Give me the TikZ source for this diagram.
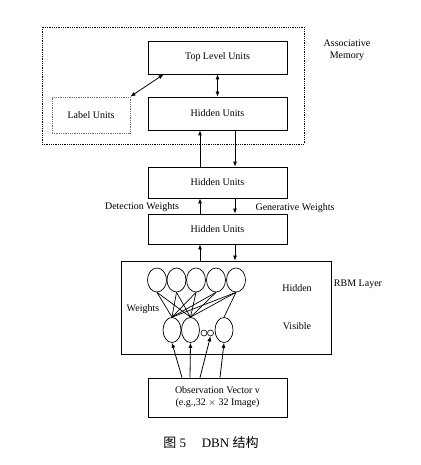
\documentclass[tikz,border=0pt]{standalone}
\usepackage{fontspec}
\setmainfont{Liberation Serif}
\newfontfamily\cjk{Noto Sans CJK SC}
\usepackage{tikz}
\usetikzlibrary{positioning}
\usetikzlibrary{calc}
\usetikzlibrary{shapes.geometric}
\usetikzlibrary{arrows.meta}

\tikzset{
    units/.style={draw, line width=0.8pt, minimum width=139pt, inner sep=0pt, font=\fontsize{10}{12}\selectfont},
    neuron/.style={draw, ellipse, line width=0.7pt, inner sep=0pt, minimum width=19pt, minimum height=24pt},
    dots/.style={draw, circle, line width=0.6pt, inner sep=0pt, minimum size=6pt},
    lbl/.style={font=\fontsize{10}{12}\selectfont, align=center},
    arr/.style={-{Latex[length=5pt,width=4pt]}, line width=0.8pt},
    biarr/.style={{Latex[length=5pt,width=4pt]}-{Latex[length=5pt,width=4pt]}, line width=0.8pt}
}

\begin{document}
\begin{tikzpicture}[x=1pt, y=-1pt]
    \useasboundingbox[fill=white] (0,0) rectangle (420,465);

    \draw[densely dotted, line width=0.8pt] (42,27) rectangle (304,144);
    \node[lbl] (assoc) at (347,50) {Associative\\Memory};

    \node[units, minimum height=33pt] (top) at (217.5,57.5) {Top Level Units};
    \node[units, minimum height=33pt] (hidA) at (217.5,113.5) {Hidden Units};
    \node[units, densely dotted, draw=black!55, minimum width=78pt, minimum height=36pt] (label) at (91,115) {Label Units};
    \node[units, minimum height=31pt] (hidB) at (217.5,182.5) {Hidden Units};
    \node[units, minimum height=30pt] (hidC) at (217.5,229) {Hidden Units};
    \node[draw, line width=0.8pt, minimum width=210pt, minimum height=93pt] (rbm) at (226,307.5) {};
    \node[units, minimum height=39pt, align=center] (obs) at (217.5,397.5) {Observation Vector v\\(e.g.,32 $\times$ 32 Image)};

    \draw[biarr] (label.north east) -- ($(top.south west)+(16,0)$);
    \draw[biarr] (top) -- (hidA);

    \draw[arr] ([xshift=-17.5pt]hidB.north) -- ([xshift=-17.5pt]hidA.south);
    \draw[arr] ([xshift=17.5pt]hidA.south) -- ([xshift=17.5pt]hidB.north);
    \draw[arr] ([xshift=-17.5pt]hidC.north) -- ([xshift=-17.5pt]hidB.south);
    \draw[arr] ([xshift=17.5pt]hidB.south) -- ([xshift=17.5pt]hidC.north);
    \draw[arr] ([xshift=-17.5pt]rbm.north -| hidC.south) -- ([xshift=-17.5pt]hidC.south);
    \draw[arr] ([xshift=17.5pt]hidC.south) -- ([xshift=17.5pt]hidC.south |- rbm.north);

    \node[lbl] (detect) at (142,207) {Detection Weights};
    \node[lbl] (gener) at (295,208) {Generative Weights};

    \foreach \n/\x in {1/157,2/176.5,3/196,4/216,5/236}
        \node[neuron] (h\n) at (\x,280) {};
    \node[neuron, minimum width=18pt, minimum height=25pt] (v1) at (172,330) {};
    \node[neuron, minimum width=18pt, minimum height=25pt] (v2) at (190.5,330) {};
    \node[neuron, minimum width=18pt, minimum height=25pt] (v3) at (224,330) {};
    \node[dots] (o1) at (204,333) {};
    \node[dots] (o2) at (210.5,333) {};

    \foreach \n in {1,...,5}
        \foreach \v in {v1,v2}
            \draw[line width=0.7pt] (h\n.south) -- (\v.north);
    \draw[line width=0.7pt] (h5.south) -- (v3.north);

    \draw[arr] ([xshift=-35.5pt]obs.north) -- (v1.south);
    \draw[arr] ([xshift=-27.5pt]obs.north) -- (v2.south);
    \draw[arr] ([xshift=-17.5pt]obs.north) -- (o2.south);
    \draw[arr] ([xshift=2.5pt]obs.north) -- (v3.south);

    \node[lbl] (rbmname) at (358,284) {RBM Layer};
    \node[lbl] (hidname) at (297,288) {Hidden};
    \node[lbl] (visname) at (297,326) {Visible};
    \node[lbl] (wname) at (143,309) {Weights};

    \node[font=\fontsize{13}{15}\selectfont] (caption) at (211,443) {{\cjk 图}\ 5\hspace{1.2em}DBN {\cjk 结构}};
\end{tikzpicture}
\end{document}
